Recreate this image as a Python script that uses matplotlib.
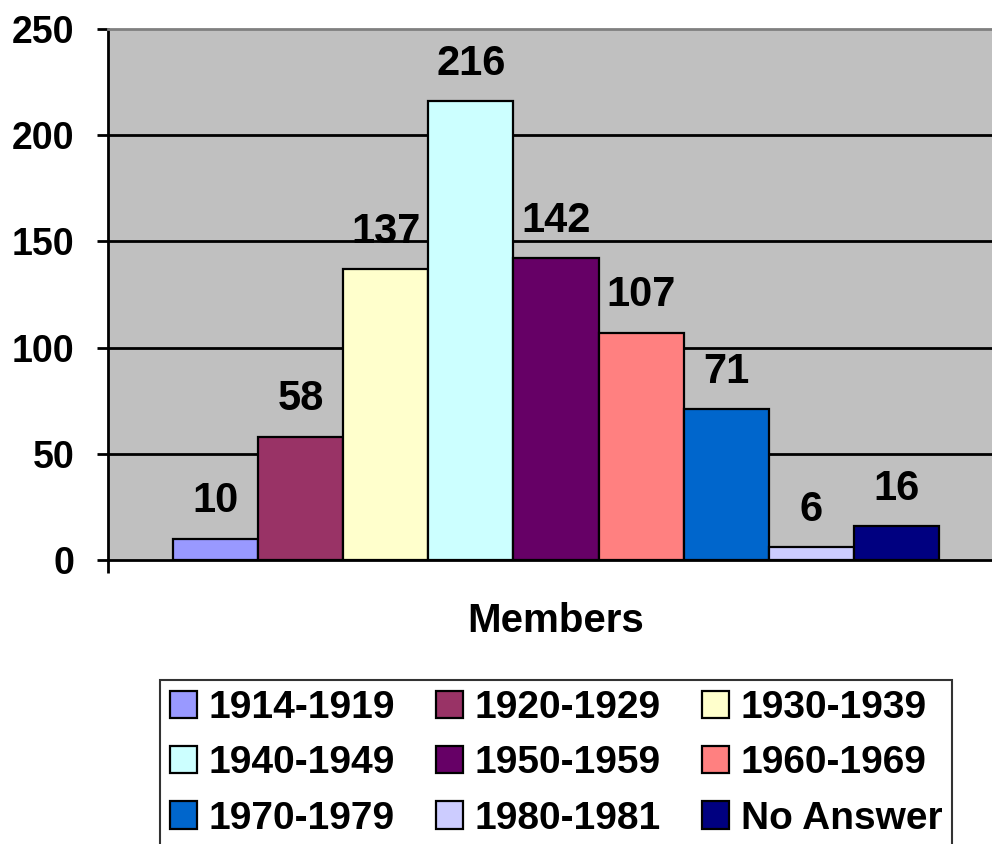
import matplotlib
matplotlib.use('Agg')
import matplotlib.pyplot as plt
import numpy as np

# data
categories = ['1914-1919', '1920-1929', '1930-1939', '1940-1949', '1950-1959',
              '1960-1969', '1970-1979', '1980-1981', 'No Answer']
members = [10, 58, 137, 216, 142, 107, 71, 6, 16]
colors = ['#9999FF', '#993366', '#FFFFCC', '#CCFFFF', '#660066',
          '#FF8080', '#0066CC', '#CCCCFF', '#000080']
y_ticks = [0, 50, 100, 150, 200, 250]
x_label = 'Members'

plt.rcParams['font.family'] = ['Liberation Sans', 'DejaVu Sans']
plt.rcParams['font.weight'] = 'bold'
TICK_FS = 27
LABEL_FS = 30
LEG_FS = 28

fig = plt.figure(figsize=(9.92, 8.44), dpi=100)
ax = fig.add_axes([108 / 992, 1 - 560 / 844, 896 / 992, 531 / 844])
ax.set_facecolor('#C0C0C0')

# horizontal gridlines
for t in y_ticks[1:-1]:
    ax.axhline(t, color='black', linewidth=2, zorder=1)

x = np.arange(len(categories))
bars = ax.bar(x, members, width=1.0, color=colors, edgecolor='black',
              linewidth=1.6, zorder=2)

for bar, val in zip(bars, members):
    ax.annotate(str(val), (bar.get_x() + bar.get_width() / 2, bar.get_height()),
                xytext=(0, 19), textcoords='offset points',
                ha='center', va='baseline', fontsize=LABEL_FS, fontweight='bold')

ax.set_xlim(-1.26, len(categories) - 1 + 1.26)
ax.set_ylim(y_ticks[0], y_ticks[-1])
ax.set_yticks(y_ticks)
ax.set_yticklabels([str(t) for t in y_ticks], fontsize=TICK_FS, fontweight='bold')
ax.tick_params(axis='y', direction='out', length=8, width=2, pad=16, colors='black')
ax.set_xticks([-1.26])
ax.set_xticklabels([''])
ax.tick_params(axis='x', direction='out', length=9, width=2)

for side in ['left', 'bottom']:
    ax.spines[side].set_linewidth(2)
    ax.spines[side].set_color('black')
ax.spines['top'].set_color('#808080')
ax.spines['top'].set_linewidth(2)
ax.spines['right'].set_visible(False)

ax.text(0.5, -0.115, x_label, transform=ax.transAxes, ha='center', va='center',
        fontsize=29, fontweight='bold')

# legend filled row by row
order = [0, 3, 6, 1, 4, 7, 2, 5, 8]
leg = fig.legend([bars[i] for i in order], [categories[i] for i in order],
                 ncol=3, loc='upper left', bbox_to_anchor=(160 / 992, 1 - 680 / 844),
                 fontsize=LEG_FS, frameon=True, fancybox=False, shadow=False,
                 handlelength=0.7, handleheight=0.7, handletextpad=0.3,
                 columnspacing=1.05, labelspacing=0.5, borderpad=0.25,
                 borderaxespad=0)
leg.get_frame().set_edgecolor('black')
leg.get_frame().set_linewidth(1.5)
for t in leg.get_texts():
    t.set_fontweight('bold')

fig.savefig('out.png', dpi=100)
